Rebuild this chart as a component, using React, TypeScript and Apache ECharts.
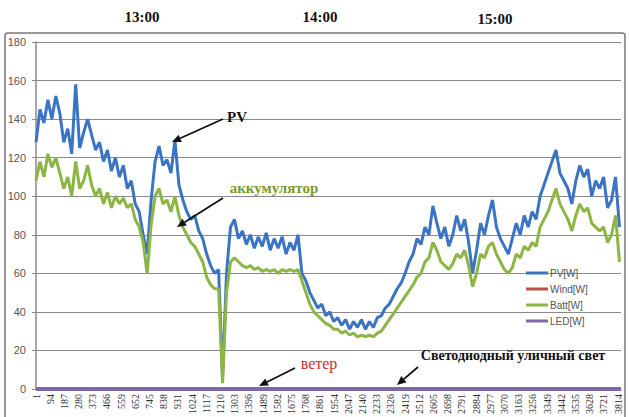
import React, { useEffect, useRef } from "react";
import * as echarts from "echarts";

// sample spacing along the x (sample index) axis
const xStep = 26;
const xTickStep = 93;
const xMax = 3832;

const pvW = [
  128, 145, 138, 150, 140, 152, 143, 128, 135, 122,
  158, 125, 133, 140, 132, 124, 128, 118, 124, 113,
  120, 110, 116, 104, 108, 96, 92, 80, 70, 98,
  118, 126, 116, 119, 112, 129, 106, 98, 92, 88,
  90, 82, 78, 70, 64, 60, 62, 6, 60, 84,
  88, 78, 82, 75, 80, 73, 79, 74, 81, 72,
  78, 73, 79, 70, 76, 72, 80, 60, 56, 50,
  46, 42, 44, 38, 40, 35, 37, 33, 36, 31,
  35, 32, 36, 31, 35, 32, 37, 38, 42, 44,
  48, 52, 55, 60, 66, 70, 78, 75, 84, 80,
  95, 86, 78, 84, 74, 80, 90, 82, 88, 76,
  60, 72, 86, 80, 90, 98, 84, 78, 74, 70,
  78, 86, 80, 90, 84, 92, 88, 100, 106, 112,
  118, 124, 112, 108, 104, 96, 108, 116, 110, 114,
  100, 108, 104, 110, 94, 98, 110, 84,
];

const battW = [
  108, 118, 110, 122, 115, 120, 112, 104, 110, 100,
  118, 104, 108, 116, 106, 100, 104, 96, 102, 94,
  100, 96, 99, 94, 96, 88, 84, 76, 60, 85,
  100, 104, 96, 98, 92, 100, 90, 84, 80, 76,
  74, 70, 66, 58, 54, 52, 52, 3, 50, 66,
  68, 66, 64, 63, 64, 62, 63, 61, 62, 61,
  62, 60, 62, 61, 62, 61, 62, 56, 50, 44,
  40, 38, 36, 34, 33, 31, 31, 29, 30, 28,
  29, 27, 28, 27, 28, 27, 29, 30, 33, 36,
  39, 42, 45, 48, 51, 54, 58, 60, 66, 68,
  76, 72, 66, 64, 62, 65, 70, 68, 72, 64,
  53, 60, 70, 68, 74, 76, 70, 66, 62, 60,
  63, 70, 68, 74, 72, 76, 74, 84, 88, 92,
  98, 104, 96, 92, 88, 82, 90, 96, 92, 94,
  86, 84, 82, 84, 76, 80, 90, 66,
];

const edgeX = [0, xMax];
const windW = [0, 0];
const ledW = [0, 0];

const seriesNames = ["PV[W]", "Wind[W]", "Batt[W]", "LED[W]"];
const seriesColors = ["#3a74c2", "#c0504d", "#8db544", "#7f68a8"];
const timeLabels = ["13:00", "14:00", "15:00"];

function arrow(x1: number, y1: number, x2: number, y2: number, color: string) {
  const ang = Math.atan2(y2 - y1, x2 - x1);
  const len = 9;
  const w = 4;
  const bx = x2 - len * Math.cos(ang);
  const by = y2 - len * Math.sin(ang);
  const px = -Math.sin(ang) * w;
  const py = Math.cos(ang) * w;
  return [
    { type: "line", shape: { x1, y1, x2: bx, y2: by }, style: { stroke: color, lineWidth: 1.8 }, z: 100 },
    {
      type: "polygon",
      shape: { points: [[x2, y2], [bx + px, by + py], [bx - px, by - py]] },
      style: { fill: color },
      z: 100,
    },
  ];
}

function label(x: number, y: number, text: string, font: string, fill: string) {
  return {
    type: "text",
    x,
    y,
    z: 100,
    style: {
      text,
      font,
      fill,
      align: "center",
      verticalAlign: "middle",
      textAlign: "center",
      textVerticalAlign: "middle",
    },
  };
}

export default function App() {
  const ref = useRef<HTMLDivElement>(null);
  useEffect(() => {
    if (!ref.current) return;
    const chart = echarts.init(ref.current, undefined, { renderer: "svg" });
    const pvData = pvW.map((v, i) => [i * xStep, v]);
    const battData = battW.map((v, i) => [i * xStep, v]);
    const windData = windW.map((v, i) => [edgeX[i], v]);
    const ledData = ledW.map((v, i) => [edgeX[i], v]);
    const serif = '"Liberation Serif", "DejaVu Serif", serif';

    chart.setOption({
      animation: false,
      backgroundColor: "#ffffff",
      grid: { left: 36, right: 8, top: 42, bottom: 28, containLabel: false },
      legend: {
        orient: "vertical",
        left: 521,
        top: 262,
        itemWidth: 22,
        itemHeight: 3,
        itemGap: 4,
        icon: "rect",
        data: seriesNames,
        textStyle: { fontSize: 10, color: "#555", fontFamily: "Liberation Sans", lineHeight: 12, padding: [0, 0, 0, -3] },
      },
      xAxis: {
        type: "value",
        min: 0,
        max: xMax,
        interval: xTickStep,
        axisLine: { show: true, lineStyle: { color: "#888", width: 1 } },
        axisTick: { show: false },
        splitLine: { show: false },
        axisLabel: {
          rotate: 90,
          margin: 5,
          fontSize: 10,
          color: "#333",
          fontFamily: serif,
          formatter: (v: number) => (v % xTickStep === 0 ? String(v + 1) : ""),
        },
      },
      yAxis: {
        type: "value",
        min: 0,
        max: 180,
        interval: 20,
        axisLine: { show: true, lineStyle: { color: "#888", width: 1.5 } },
        axisTick: { show: true, length: 4, lineStyle: { color: "#888" } },
        splitLine: { show: true, lineStyle: { color: "#8a8a8a", width: 1 } },
        axisLabel: { margin: 10, fontSize: 11, color: "#555", fontFamily: "Liberation Sans" },
      },
      series: [
        {
          name: seriesNames[0],
          type: "line",
          data: pvData,
          showSymbol: false,
          color: seriesColors[0],
          lineStyle: { width: 3, color: seriesColors[0] },
          z: 2,
        },
        {
          name: seriesNames[1],
          type: "line",
          data: windData,
          showSymbol: false,
          color: seriesColors[1],
          lineStyle: { width: 3, color: seriesColors[1] },
          clip: false,
          z: 3,
        },
        {
          name: seriesNames[2],
          type: "line",
          data: battData,
          showSymbol: false,
          color: seriesColors[2],
          lineStyle: { width: 3, color: seriesColors[2] },
          z: 4,
        },
        {
          name: seriesNames[3],
          type: "line",
          data: ledData,
          showSymbol: false,
          color: seriesColors[3],
          lineStyle: { width: 4, color: seriesColors[3] },
          clip: false,
          z: 5,
        },
      ],
      graphic: [
        {
          type: "rect",
          shape: { x: 5, y: 33, width: 620, height: 395, r: 3 },
          style: { fill: "none", stroke: "#777", lineWidth: 1.5 },
          z: -1,
        },
        label(142, 17, timeLabels[0], `bold 15px ${serif}`, "#111"),
        label(320, 17, timeLabels[1], `bold 15px ${serif}`, "#111"),
        label(495, 19, timeLabels[2], `bold 15px ${serif}`, "#111"),
        label(237, 117, "PV", `bold 15px ${serif}`, "#111"),
        ...arrow(223, 119, 172, 142, "#111"),
        label(274, 188, "аккумулятор", `bold 15px ${serif}`, "#7a9a2a"),
        ...arrow(223, 198, 177, 227, "#111"),
        label(319, 363, "ветер", `16px ${serif}`, "#d42a2a"),
        ...arrow(295, 368, 259, 386, "#111"),
        label(513, 355, "Светодиодный уличный свет", `bold 14px ${serif}`, "#111"),
        ...arrow(418, 367, 397, 385, "#111"),
      ],
    });
    return () => chart.dispose();
  }, []);
  return <div ref={ref} style={{ position: "absolute", left: 0, top: 0, width: 629, height: 417 }} />;
}
